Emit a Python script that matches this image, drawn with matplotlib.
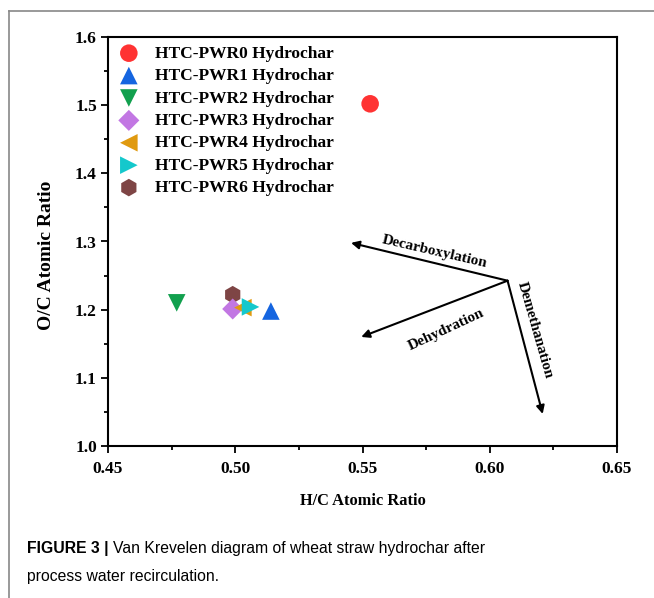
import matplotlib
matplotlib.use("Agg")
import matplotlib.pyplot as plt
from matplotlib.lines import Line2D

# ---- data ----
labels = ["HTC-PWR0 Hydrochar", "HTC-PWR1 Hydrochar", "HTC-PWR2 Hydrochar",
          "HTC-PWR3 Hydrochar", "HTC-PWR4 Hydrochar", "HTC-PWR5 Hydrochar",
          "HTC-PWR6 Hydrochar"]
hc = [0.553, 0.514, 0.477, 0.499, 0.503, 0.506, 0.499]
oc = [1.502, 1.198, 1.210, 1.201, 1.203, 1.204, 1.222]
markers = ["o", "^", "v", "D", "<", ">", "h"]
colors = ["#FF3333", "#1565E0", "#12A04E", "#C277E3", "#E09A10", "#14C8CC", "#7E4545"]
sizes = [160, 160, 160, 115, 160, 160, 160]

arrow_origin = (0.607, 1.2425)
arrow_tips = {"Decarboxylation": (0.5455, 1.298),
              "Dehydration": (0.5495, 1.160),
              "Demethanation": (0.6208, 1.047)}

xticks = [0.45, 0.50, 0.55, 0.60, 0.65]
yticks = [1.0, 1.1, 1.2, 1.3, 1.4, 1.5, 1.6]

serif = ["Liberation Serif", "DejaVu Serif"]
sans = ["Liberation Sans", "DejaVu Sans"]

fig = plt.figure(figsize=(6.54, 5.98), dpi=100)

# outer frame lines
fig.add_artist(Line2D([9/654, 9/654], [0, 1 - 11/598], color="#888888", lw=1.2, transform=fig.transFigure))
fig.add_artist(Line2D([9/654, 1], [1 - 11/598, 1 - 11/598], color="#888888", lw=1.2, transform=fig.transFigure))

ax = fig.add_axes([108/654, 1 - 446/598, 509/654, 409/598])

zorders = [3, 3, 3, 3, 4, 5, 2]
for i in range(len(labels)):
    ax.scatter([hc[i]], [oc[i]], marker=markers[i], s=sizes[i], c=colors[i],
               edgecolors="none", label=labels[i], zorder=zorders[i])

ax.set_xlim(0.45, 0.65)
ax.set_ylim(1.0, 1.6)
ax.set_xticks(xticks)
ax.set_yticks(yticks)
ax.set_xticklabels([f"{v:.2f}" for v in xticks])
ax.set_yticklabels([f"{v:.1f}" for v in yticks])
ax.set_xticks([0.475, 0.525, 0.575, 0.625], minor=True)
ax.set_yticks([1.05, 1.15, 1.25, 1.35, 1.45, 1.55], minor=True)
ax.tick_params(which="major", direction="out", length=5, width=1.3)
ax.tick_params(axis="x", which="major", pad=6)
ax.tick_params(axis="y", which="major", pad=3)
ax.tick_params(which="minor", direction="out", length=3, width=1.3)
for lab in ax.get_xticklabels() + ax.get_yticklabels():
    lab.set_fontfamily(serif)
    lab.set_fontweight("bold")
    lab.set_fontsize(12.5)
for sp in ax.spines.values():
    sp.set_linewidth(1.5)

ax.set_xlabel("H/C Atomic Ratio", family=serif, weight="bold", fontsize=11.8)
ax.xaxis.set_label_coords(0.5, -(493 - 446) / 409)
ax.set_ylabel("O/C Atomic Ratio", family=serif, weight="bold", fontsize=14)
ax.yaxis.set_label_coords(-(108 - 55) / 509, (446 - 255) / 409)

leg = ax.legend(loc="upper left", bbox_to_anchor=(0.0, 1.0045), frameon=False,
                prop={"family": serif, "weight": "bold", "size": 12.5},
                handletextpad=0.9, labelspacing=0.36, borderaxespad=0.2,
                handlelength=1.2, scatterpoints=1)

# arrows
for name, tip in arrow_tips.items():
    ax.annotate("", xy=tip, xytext=arrow_origin,
                arrowprops=dict(arrowstyle="-|>", color="black", lw=1.5,
                                mutation_scale=12, shrinkA=0, shrinkB=0))

ax.text(0.5784, 1.2855, "Decarboxylation", rotation=-13, ha="center", va="center",
        family=serif, weight="bold", fontsize=11)
ax.text(0.5831, 1.170, "Dehydration", rotation=25, ha="center", va="center",
        family=serif, weight="bold", fontsize=11)
ax.text(0.6178, 1.170, "Demethanation", rotation=-74, ha="center", va="center",
        family=serif, weight="bold", fontsize=11)

# caption
t1 = fig.text(27/654, 1 - 548/598, "FIGURE 3 |", family=sans, weight="bold",
              fontsize=11.3, va="center", ha="left")
fig.canvas.draw()
r = fig.canvas.get_renderer()
bb = t1.get_window_extent(r)
fig.text((bb.x1 + 4) / fig.bbox.width, 1 - 548/598,
         "Van Krevelen diagram of wheat straw hydrochar after",
         family=sans, fontsize=11.3, va="center", ha="left")
fig.text(27/654, 1 - 577/598, "process water recirculation.", family=sans,
         fontsize=11.3, va="center", ha="left")

fig.savefig("out.png", dpi=100)
